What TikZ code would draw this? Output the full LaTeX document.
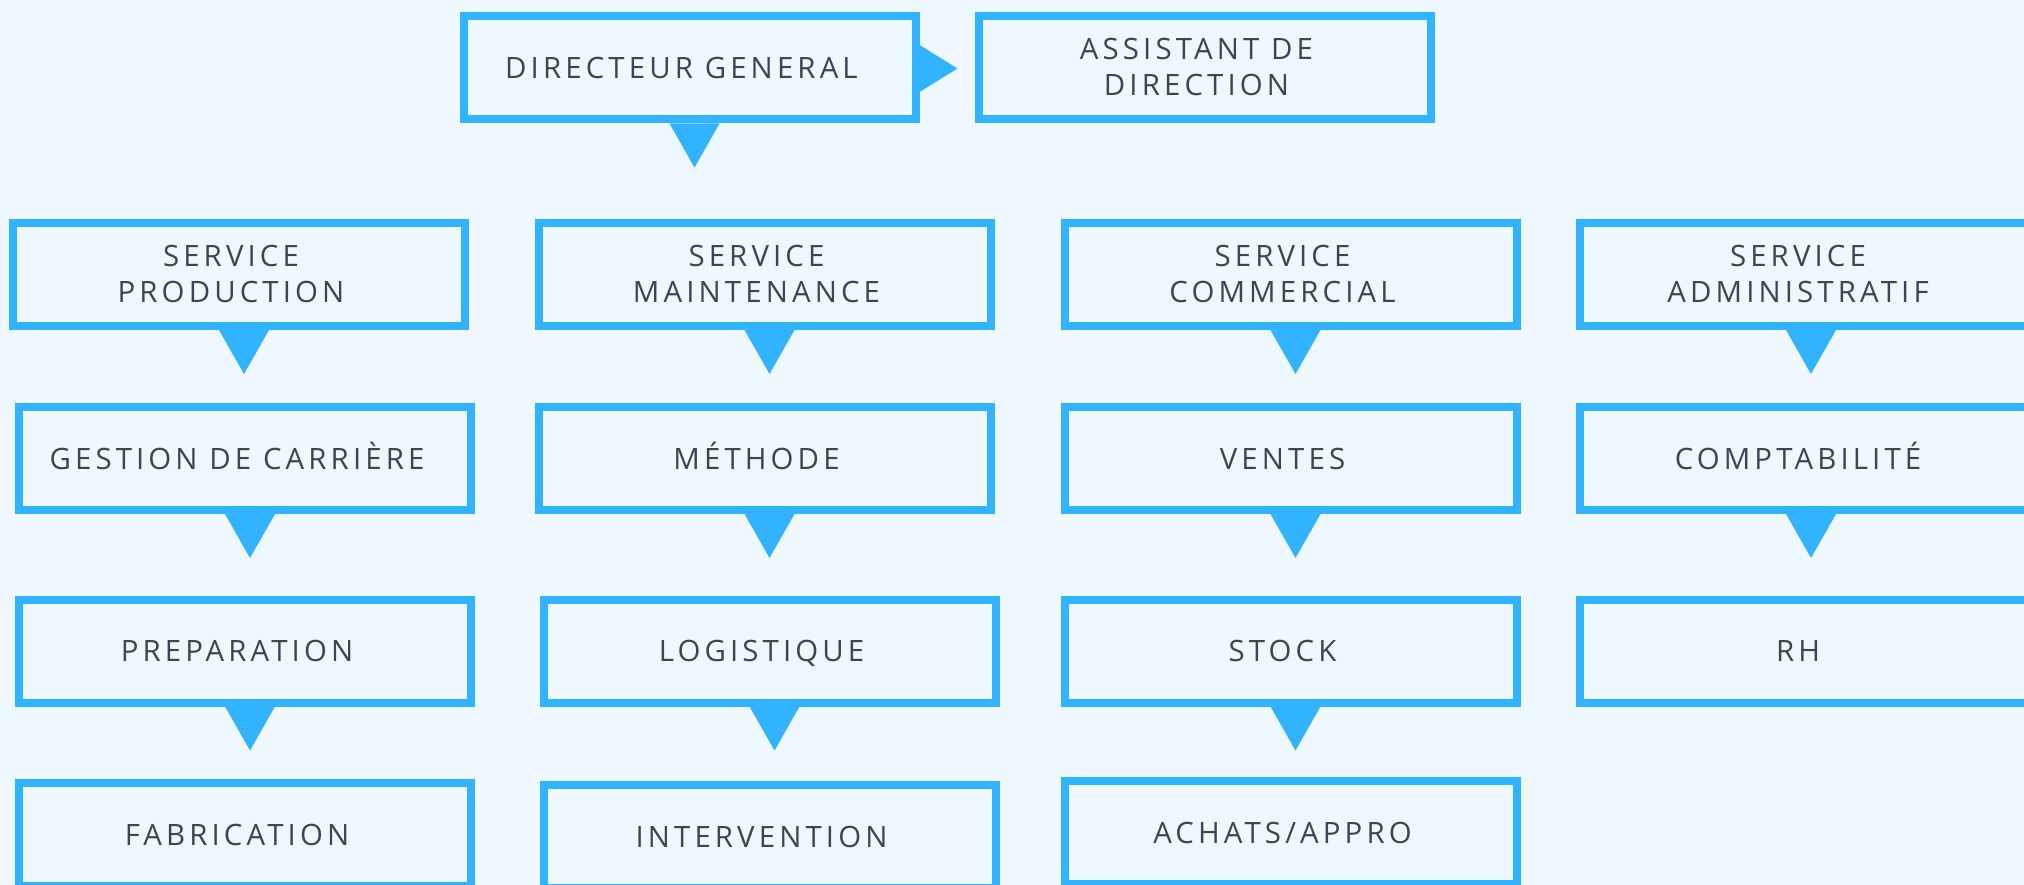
\documentclass[tikz,border=0pt]{standalone}
\usepackage{fontspec}
\setmainfont{Open Sans}[LetterSpace=14]
\usetikzlibrary{calc}
\definecolor{bblue}{HTML}{31B3FF}
\definecolor{bgc}{HTML}{EEF8FE}
\definecolor{txtc}{HTML}{3C4550}
\newcommand\downtri[1]{\fill[tri] ($(#1.south)+(-20,0)$) -- ($(#1.south)+(30,0)$) -- ($(#1.south)+(5,44)$) -- cycle;}
\begin{document}
\begin{tikzpicture}[x=1pt,y=-1pt,
 box/.style={draw=bblue,line width=8pt,fill=bgc,minimum width=452pt,minimum height=103pt,inner sep=0pt},
 lbl/.style={text=txtc,font=\fontsize{29.4}{36}\selectfont,inner sep=0pt,anchor=base},
 lbltwo/.style={text=txtc,font=\fontsize{29.4}{36}\selectfont,inner sep=0pt,align=center,anchor=center},
 tri/.style={fill=bblue}]
\fill[bgc] (0,0) rectangle (2024,885);
\useasboundingbox (0,0) rectangle (2024,885);
% boxes
\node[box] (dg) at (689.5,68) {};
\node[box] (as) at (1204.5,68) {};
\node[box] (sp) at (239,274.5) {};
\node[box] (sm) at (764.5,274.5) {};
\node[box] (sc) at (1290.5,274.5) {};
\node[box] (sa) at (1806,274.5) {};
\node[box] (gc) at (245,458.5) {};
\node[box] (me) at (764.5,458.5) {};
\node[box] (ve) at (1290.5,458.5) {};
\node[box] (co) at (1806,458.5) {};
\node[box] (pr) at (245,651) {};
\node[box] (lo) at (769.5,651) {};
\node[box] (st) at (1290.5,651) {};
\node[box] (rh) at (1806,651) {};
\node[box] (fa) at (245,834.5) {};
\node[box] (in) at (769.5,836.5) {};
\node[box] (ac) at (1290.5,832.5) {};
% labels
\node[lbl] (tdg) at ($(dg.center)+(-8,10.5)$) {DIRECTEUR GENERAL};
\node[lbltwo] (tas) at ($(as.center)+(-8,-0.5)$) {ASSISTANT DE\\DIRECTION};
\node[lbltwo] (tsp) at ($(sp.center)+(-8,-1)$) {SERVICE\\PRODUCTION};
\node[lbltwo] (tsm) at ($(sm.center)+(-8,-1)$) {SERVICE\\MAINTENANCE};
\node[lbltwo] (tsc) at ($(sc.center)+(-8,-1)$) {SERVICE\\COMMERCIAL};
\node[lbltwo] (tsa) at ($(sa.center)+(-8,-1)$) {SERVICE\\ADMINISTRATIF};
\node[lbl] (tgc) at ($(gc.center)+(-8,10.5)$) {GESTION DE CARRIÈRE};
\node[lbl] (tme) at ($(me.center)+(-8,10.5)$) {MÉTHODE};
\node[lbl] (tve) at ($(ve.center)+(-8,10.5)$) {VENTES};
\node[lbl] (tco) at ($(co.center)+(-8,10.5)$) {COMPTABILITÉ};
\node[lbl] (tpr) at ($(pr.center)+(-8,10.5)$) {PREPARATION};
\node[lbl] (tlo) at ($(lo.center)+(-8,10.5)$) {LOGISTIQUE};
\node[lbl] (tst) at ($(st.center)+(-8,10.5)$) {STOCK};
\node[lbl] (trh) at ($(rh.center)+(-8,10.5)$) {RH};
\node[lbl] (tfa) at ($(fa.center)+(-8,10.5)$) {FABRICATION};
\node[lbl] (tin) at ($(in.center)+(-8,10.5)$) {INTERVENTION};
\node[lbl] (tac) at ($(ac.center)+(-8,10.5)$) {ACHATS/APPRO};
% connectors (triangles)
\fill[tri] ($(dg.east)+(0,-23)$) -- ($(dg.east)+(38,0.5)$) -- ($(dg.east)+(0,24)$) -- cycle;
\downtri{dg}
\downtri{sp}
\downtri{sm}
\downtri{sc}
\downtri{sa}
\downtri{gc}
\downtri{me}
\downtri{ve}
\downtri{co}
\downtri{pr}
\downtri{lo}
\downtri{st}
\end{tikzpicture}
\end{document}
